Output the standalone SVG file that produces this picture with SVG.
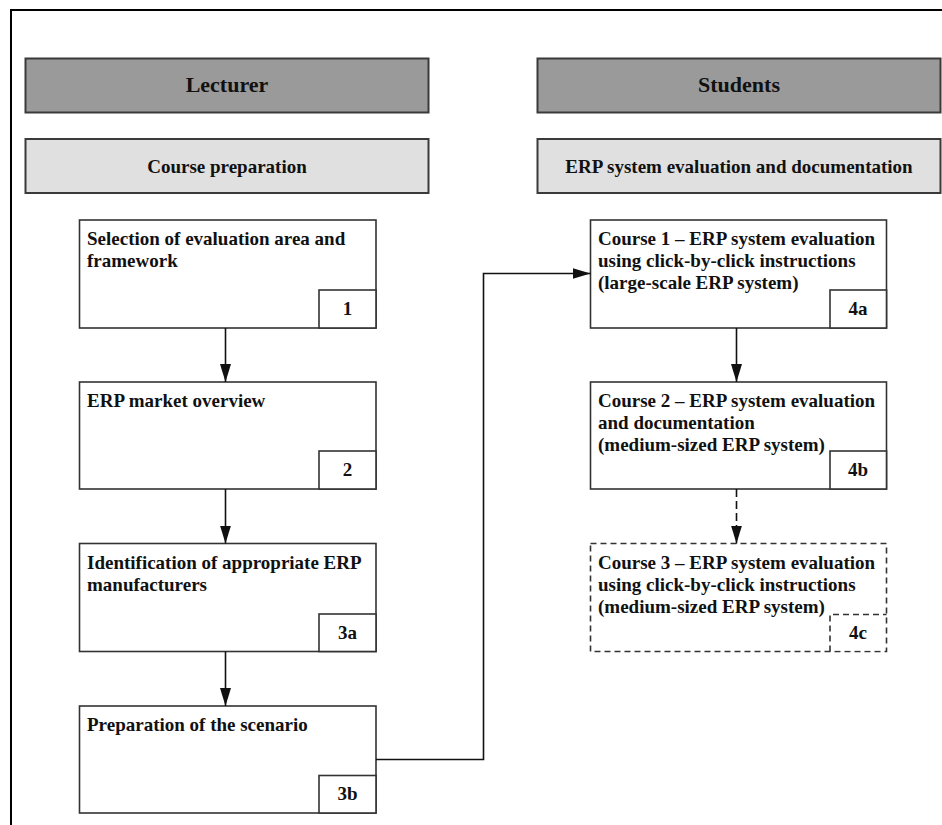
<svg xmlns="http://www.w3.org/2000/svg" width="942" height="825" viewBox="0 0 942 825">
<style>
text{font-family:"Liberation Serif","Times New Roman",serif;font-weight:bold;fill:#111}
.hdr{fill:#9a9a9a;stroke:#3a3a3a;stroke-width:2}
.sub{fill:#e0e0e0;stroke:#3a3a3a;stroke-width:2}
.box{fill:#fff;stroke:#333;stroke-width:1.6}
.dbox{fill:#fff;stroke:#333;stroke-width:1.6;stroke-dasharray:6 4}
.t{font-size:19px}
.h{font-size:22px}
.c{text-anchor:middle}
.line{fill:none;stroke:#111;stroke-width:1.6}
</style>
<defs>
<marker id="ah" markerWidth="18" markerHeight="12" refX="18" refY="6" orient="auto" markerUnits="userSpaceOnUse">
<path d="M0,0.5 L18,6 L0,11.5 Z" fill="#111"/>
</marker>
</defs>
<path d="M11,830 V10 H945" fill="none" stroke="#000" stroke-width="2"/>
<g id="lecturer">
<rect class="hdr" x="25.5" y="58.5" width="403" height="54"/>
<text class="h c" x="227" y="92">Lecturer</text>
</g>
<g id="students">
<rect class="hdr" x="537.5" y="58.5" width="403" height="54"/>
<text class="h c" x="739" y="92">Students</text>
</g>
<g id="course-preparation">
<rect class="sub" x="25.5" y="139" width="403" height="54"/>
<text class="t c" x="227" y="173">Course preparation</text>
</g>
<g id="erp-eval-doc">
<rect class="sub" x="537.5" y="139" width="403" height="54"/>
<text class="t c" x="739" y="173">ERP system evaluation and documentation</text>
</g>
<g id="n1">
<rect class="box" x="79.5" y="220" width="296.5" height="108"/>
<rect class="box" x="319" y="290" width="57" height="38"/>
<text class="t" x="87" y="245">Selection of evaluation area and</text>
<text class="t" x="87" y="267">framework</text>
<text class="t c" x="347.5" y="315">1</text>
</g>
<g id="n2">
<rect class="box" x="79.5" y="382" width="296.5" height="107"/>
<rect class="box" x="319" y="451" width="57" height="38"/>
<text class="t" x="87" y="407">ERP market overview</text>
<text class="t c" x="347.5" y="476">2</text>
</g>
<g id="n3a">
<rect class="box" x="79.5" y="543.5" width="296.5" height="108"/>
<rect class="box" x="319" y="614" width="57" height="37.5"/>
<text class="t" x="87" y="569">Identification of appropriate ERP</text>
<text class="t" x="87" y="591">manufacturers</text>
<text class="t c" x="347.5" y="639">3a</text>
</g>
<g id="n3b">
<rect class="box" x="79.5" y="706" width="296.5" height="107"/>
<rect class="box" x="319" y="775.5" width="57" height="37.5"/>
<text class="t" x="87" y="731">Preparation of the scenario</text>
<text class="t c" x="347.5" y="800">3b</text>
</g>
<g id="n4a">
<rect class="box" x="590.5" y="220" width="296" height="108"/>
<rect class="box" x="830" y="290" width="56.5" height="38"/>
<text class="t" x="598" y="245">Course 1 – ERP system evaluation</text>
<text class="t" x="598" y="267">using click-by-click instructions</text>
<text class="t" x="598" y="289">(large-scale ERP system)</text>
<text class="t c" x="858" y="315">4a</text>
</g>
<g id="n4b">
<rect class="box" x="590.5" y="382" width="296" height="107"/>
<rect class="box" x="830" y="451" width="56.5" height="38"/>
<text class="t" x="598" y="407">Course 2 – ERP system evaluation</text>
<text class="t" x="598" y="429">and documentation</text>
<text class="t" x="598" y="451">(medium-sized ERP system)</text>
<text class="t c" x="858" y="476">4b</text>
</g>
<g id="n4c">
<rect class="dbox" x="590.5" y="543.5" width="296" height="108"/>
<rect x="831" y="615.5" width="54" height="35" fill="#fff"/>
<path d="M830,651.5 V614.5 H886.5" fill="none" stroke="#333" stroke-width="1.6" stroke-dasharray="6 4"/>
<text class="t" x="598" y="568.5">Course 3 – ERP system evaluation</text>
<text class="t" x="598" y="590.5">using click-by-click instructions</text>
<text class="t" x="598" y="612.5">(medium-sized ERP system)</text>
<text class="t c" x="858" y="639">4c</text>
</g>
<g id="connectors">
<path class="line" d="M225.5,328 V382" marker-end="url(#ah)"/>
<path class="line" d="M225.5,489 V543.5" marker-end="url(#ah)"/>
<path class="line" d="M225.5,651.5 V706" marker-end="url(#ah)"/>
<path class="line" d="M736.5,328 V382" marker-end="url(#ah)"/>
<path class="line" d="M736.5,489 V543.5" stroke-dasharray="8 4" marker-end="url(#ah)"/>
<path class="line" d="M376,759.5 H483.5 V273.5 H590.5" marker-end="url(#ah)"/>
</g>
</svg>
